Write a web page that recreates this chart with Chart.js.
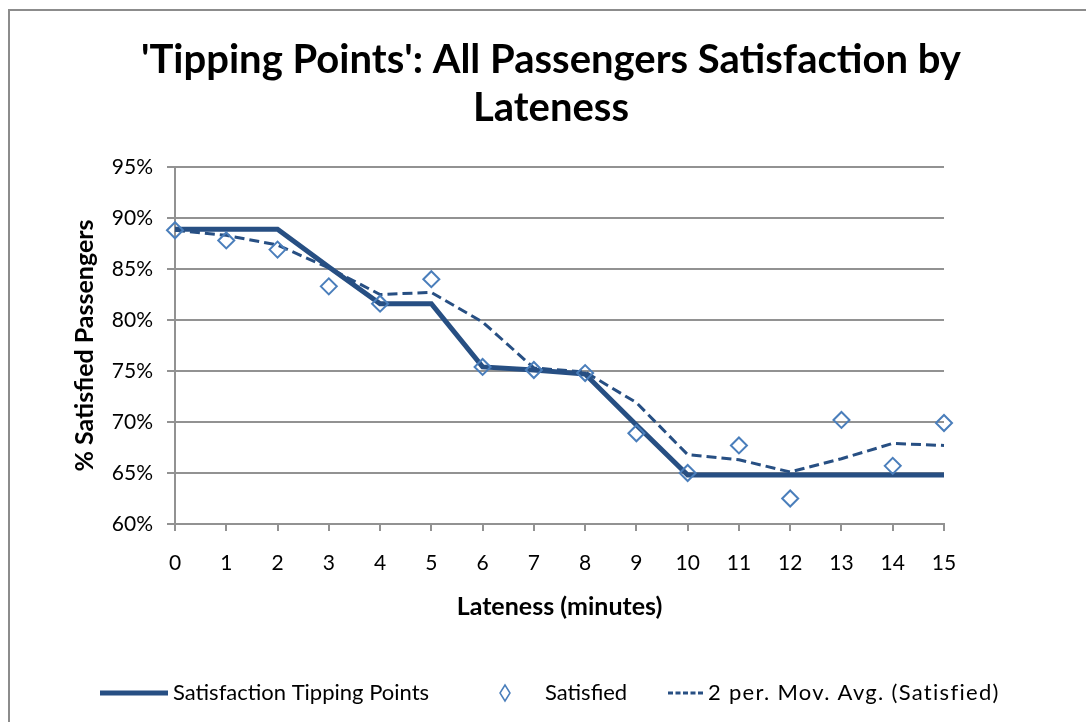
<!DOCTYPE html>
<html>
<head>
<meta charset="utf-8">
<script src="https://cdn.jsdelivr.net/npm/chart.js@4/dist/chart.umd.min.js"></script>
<style>
  html, body { margin: 0; padding: 0; background: #fff; overflow: hidden; }
  #wrap { width: 1086px; height: 722px; overflow: hidden; }
  canvas { display: block; }
</style>
</head>
<body>
<div id="wrap"><canvas id="c" width="1102" height="722"></canvas></div>
<script>
// ---- Data ----
const lateness = ['0','1','2','3','4','5','6','7','8','9','10','11','12','13','14','15'];
const tippingPoints = [88.9, 88.9, 88.9, 85.2, 81.6, 81.6, 75.4, 75.1, 74.7, 69.7, 64.8, 64.8, 64.8, 64.8, 64.8, 64.8];
const satisfied = [88.8, 87.8, 86.9, 83.3, 81.6, 84.0, 75.4, 75.1, 74.8, 68.9, 65.0, 67.7, 62.5, 70.2, 65.7, 69.9];
const movingAvg = [88.8, 88.3, 87.35, 85.1, 82.5, 82.7, 79.8, 75.3, 74.9, 71.9, 66.8, 66.3, 65.1, 66.4, 67.9, 67.7];
const yTicks = [60, 65, 70, 75, 80, 85, 90, 95];
const titleLines = ["'Tipping Points': All Passengers Satisfaction by", "Lateness"];
const seriesNames = ['Satisfaction Tipping Points', 'Satisfied', '2 per. Mov. Avg. (Satisfied)'];

const DARK = '#274f83';
const LIGHT = '#4a7ebb';
const GRID = '#929292';
const FONT = 'Lato, "Open Sans", sans-serif';

Chart.defaults.font.family = FONT;
Chart.defaults.color = '#000';

const frame = {
  id: 'frame',
  beforeDraw(chart) {
    const ctx = chart.ctx;
    ctx.save();
    ctx.fillStyle = '#fff';
    ctx.fillRect(0, 0, chart.width, chart.height);
    ctx.strokeStyle = '#8c8c8c';
    ctx.lineWidth = 2;
    ctx.strokeRect(9, 10, 2000, 2000);
    ctx.restore();
  }
};

const bottomLegend = {
  id: 'bottomLegend',
  afterDraw(chart) {
    const ctx = chart.ctx;
    const y = 693;
    ctx.save();
    ctx.font = '22px ' + FONT;
    ctx.fillStyle = '#000';
    ctx.textBaseline = 'middle';
    ctx.textAlign = 'left';
    // solid
    ctx.strokeStyle = DARK; ctx.lineWidth = 5; ctx.setLineDash([]);
    ctx.beginPath(); ctx.moveTo(100, y); ctx.lineTo(168, y); ctx.stroke();
    ctx.fillText(seriesNames[0], 173, y);
    // diamond
    ctx.strokeStyle = LIGHT; ctx.lineWidth = 1.5;
    ctx.beginPath();
    ctx.moveTo(505, y - 8); ctx.lineTo(510, y); ctx.lineTo(505, y + 8); ctx.lineTo(500, y); ctx.closePath();
    ctx.stroke();
    ctx.fillText(seriesNames[1], 545, y);
    // dashed
    ctx.strokeStyle = DARK; ctx.lineWidth = 3; ctx.setLineDash([5, 2.5]);
    ctx.beginPath(); ctx.moveTo(668, y); ctx.lineTo(704, y); ctx.stroke();
    ctx.setLineDash([]);
    if ('letterSpacing' in ctx) ctx.letterSpacing = '1.3px';
    ctx.fillText(seriesNames[2], 708, y);
    ctx.restore();
  }
};

new Chart(document.getElementById('c'), {
  type: 'line',
  data: {
    labels: lateness,
    datasets: [
      {
        label: seriesNames[0],
        data: tippingPoints,
        borderColor: DARK,
        borderWidth: 5,
        pointRadius: 0,
        tension: 0,
        fill: false,
        order: 3,
        clip: false
      },
      {
        label: seriesNames[1],
        data: satisfied,
        showLine: false,
        pointStyle: 'rectRot',
        pointRadius: 8,
        pointBorderWidth: 2,
        pointBorderColor: LIGHT,
        pointBackgroundColor: 'rgba(0,0,0,0)',
        borderColor: LIGHT,
        order: 1,
        clip: false
      },
      {
        label: seriesNames[2],
        data: movingAvg,
        borderColor: DARK,
        borderWidth: 3,
        borderDash: [10, 5],
        pointRadius: 0,
        tension: 0,
        fill: false,
        order: 2,
        clip: false
      }
    ]
  },
  options: {
    responsive: false,
    devicePixelRatio: 1,
    animation: false,
    events: [],
    layout: { padding: { top: 0, left: 0, right: 0, bottom: 98 } },
    plugins: {
      legend: { display: false },
      tooltip: { enabled: false },
      title: {
        display: true,
        text: titleLines,
        color: '#000',
        font: { size: 40, weight: 'bold', lineHeight: '48px' },
        padding: { top: 36, bottom: 35 }
      }
    },
    scales: {
      x: {
        type: 'category',
        offset: false,
        grid: { display: true, drawOnChartArea: false, drawTicks: true, tickLength: 7, color: GRID, lineWidth: 2, offset: false },
        border: { display: true, color: GRID, width: 2 },
        ticks: { font: { size: 21 }, padding: 20, maxRotation: 0, autoSkip: false, color: '#000' },
        title: { display: true, text: 'Lateness (minutes)', font: { size: 25, weight: 'bold' }, padding: { top: 0, bottom: 2 }, color: '#000' },
        afterFit(s) { s.height = 100; }
      },
      y: {
        type: 'linear',
        min: 60,
        max: 95,
        afterBuildTicks(s) { s.ticks = yTicks.map(v => ({ value: v })); },
        grid: { color: GRID, lineWidth: 2, tickLength: 8, drawTicks: true },
        border: { display: true, color: GRID, width: 2 },
        ticks: { font: { size: 21 }, padding: 14, color: '#000', callback: v => v + '%' },
        title: { display: true, text: '% Satisfied Passengers', font: { size: 25, weight: 'bold' }, padding: { top: 70, bottom: 0 }, color: '#000' },
        afterFit(s) { s.width = 175; }
      },
      yR: {
        type: 'linear',
        position: 'right',
        display: true,
        grid: { display: false },
        border: { display: false },
        ticks: { display: false },
        afterFit(s) { s.width = 1102 - 944; }
      }
    }
  },
  plugins: [frame, bottomLegend]
});
</script>
</body>
</html>
